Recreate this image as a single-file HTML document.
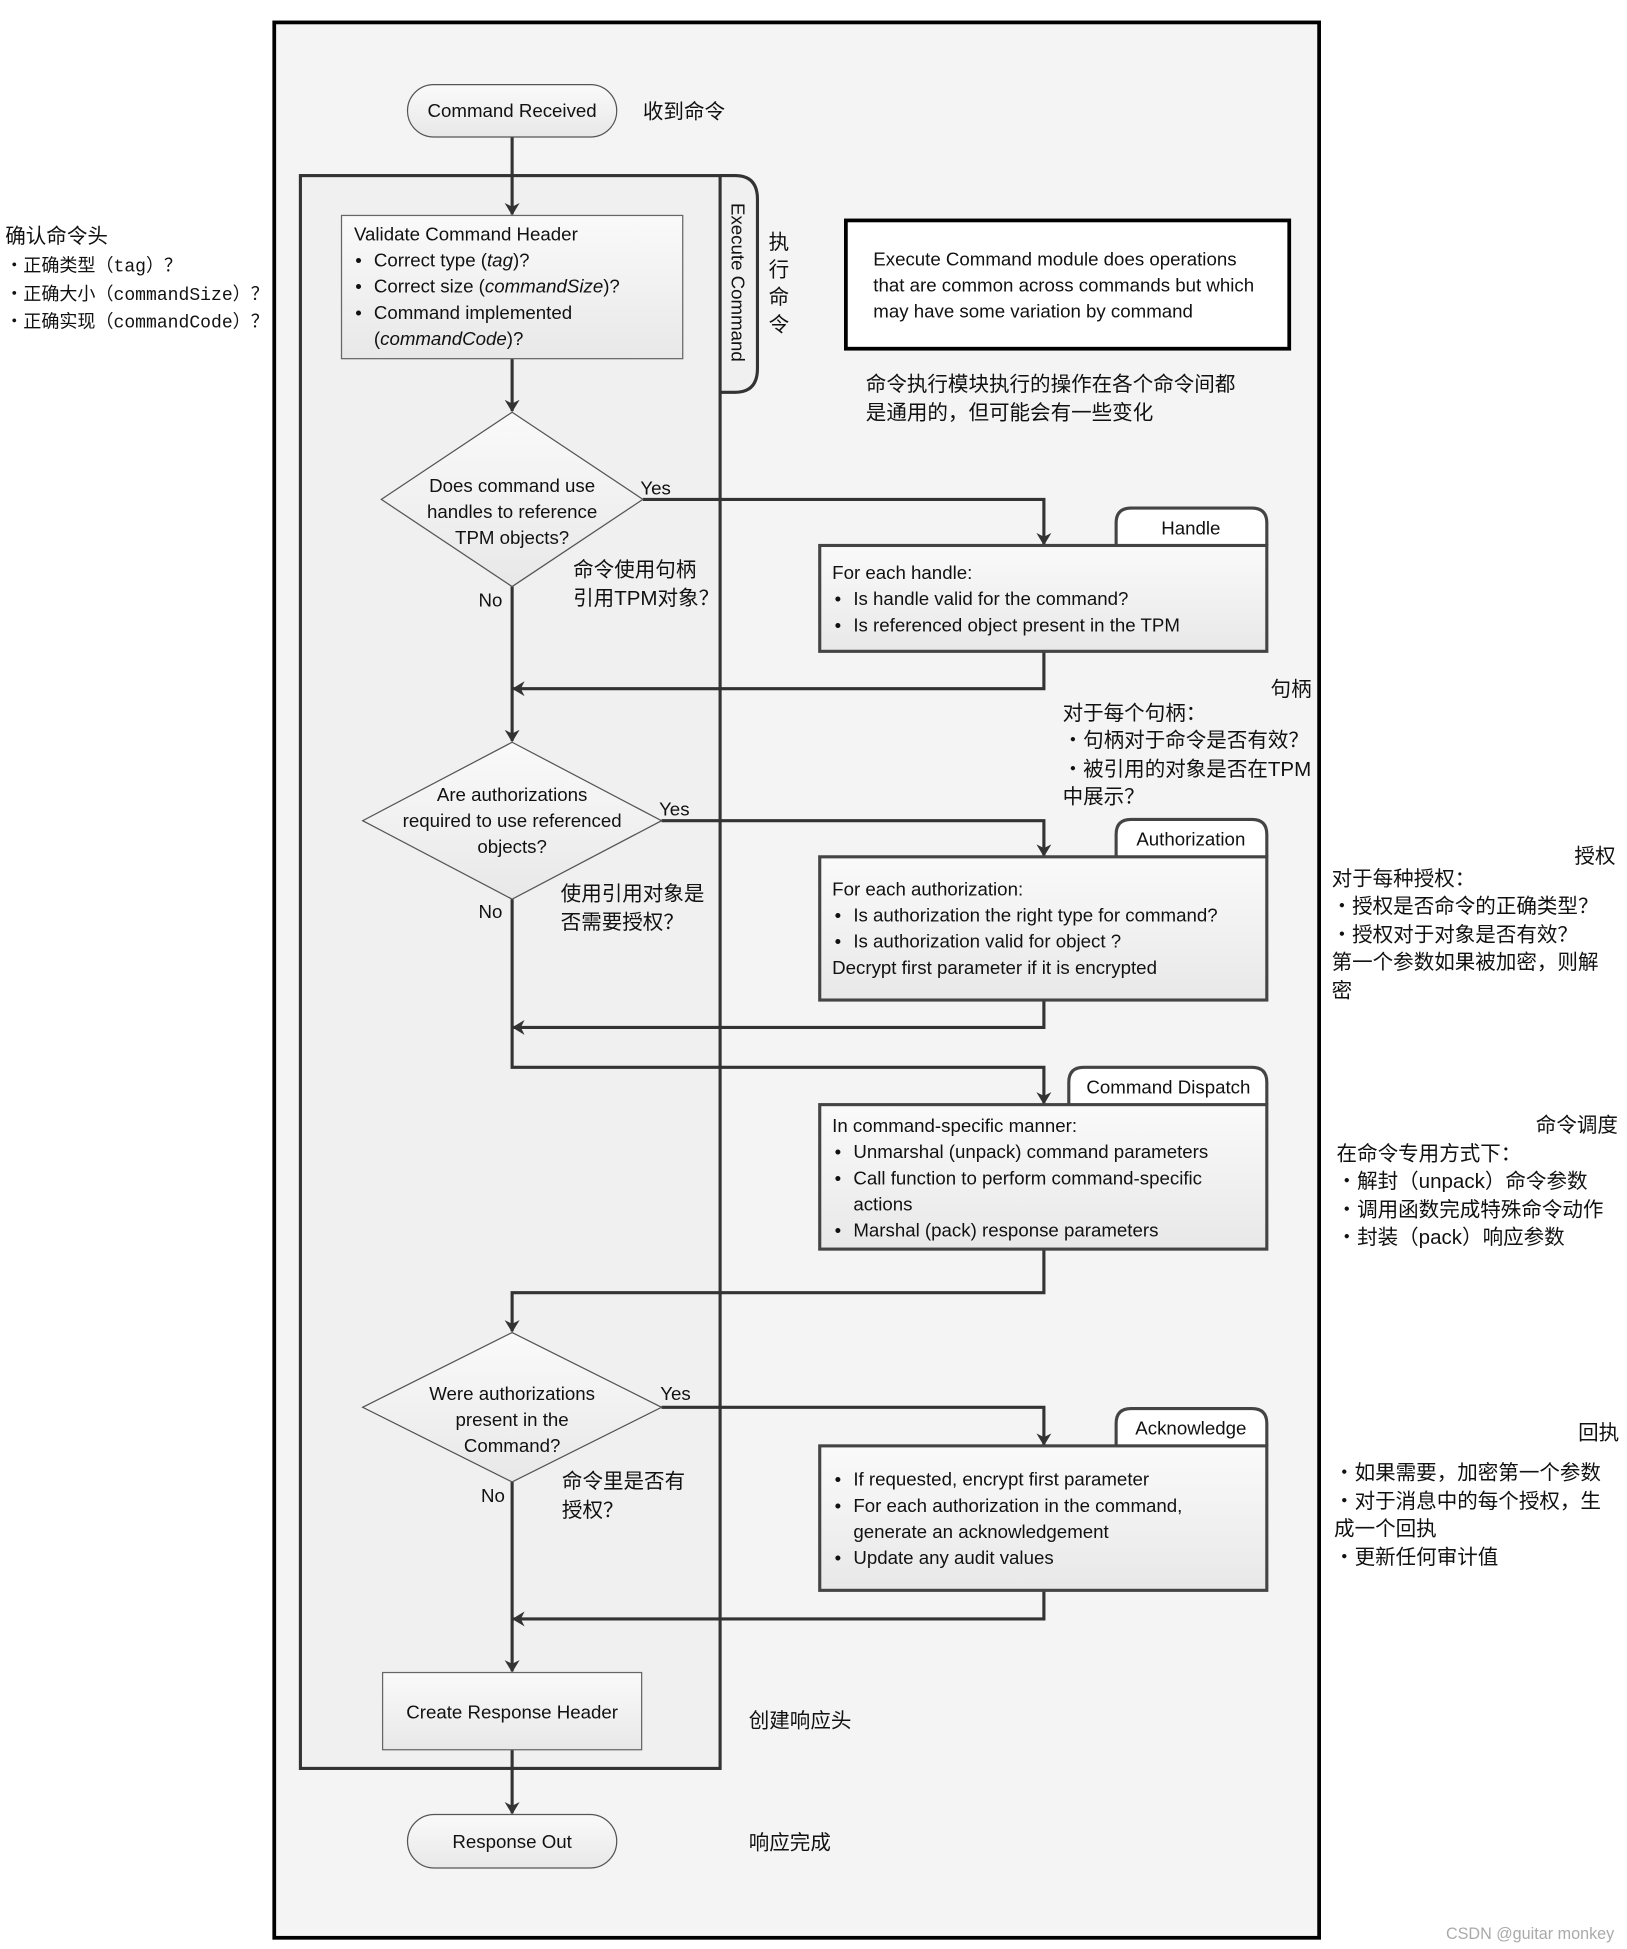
<!DOCTYPE html>
<html><head><meta charset="utf-8"><style>
html,body{margin:0;padding:0;background:#fff}
svg{display:block}
text{font-family:"Liberation Sans","Noto Sans CJK SC",sans-serif;fill:#111}
.en{font-size:15px}
.cn{font-size:16.5px;font-family:"Liberation Sans","Noto Sans CJK SC",sans-serif}
.mono{font-family:"Liberation Mono","Noto Sans CJK SC",monospace;font-size:14.5px}
</style></head><body>
<svg width="1627" height="1949" viewBox="0 0 1306 1565" xmlns="http://www.w3.org/2000/svg">
<defs>
<linearGradient id="g" x1="0" y1="0" x2="0" y2="1"><stop offset="0" stop-color="#fafafa"/><stop offset="1" stop-color="#e8e8e8"/></linearGradient>
<marker id="a" markerWidth="10" markerHeight="12" refX="9" refY="6" orient="auto" markerUnits="userSpaceOnUse"><path d="M0,0 L10,6 L0,12 L3,6 z" fill="#333"/></marker>
</defs>
<rect x="0" y="0" width="1306" height="1565" fill="#fff"/>
<rect x="220" y="18" width="839" height="1538" fill="#f4f4f4" stroke="#000" stroke-width="3"/>
<path d="M578,141 H590 Q608,141 608,160 V296 Q608,315 590,315 H578" fill="#f0f0f0" stroke="#333" stroke-width="2.5"/>
<rect x="241" y="141" width="337" height="1279" fill="#f0f0f0" stroke="#333" stroke-width="2.5"/>
<text class="en" transform="translate(587,163) rotate(90)">Execute Command</text>
<g stroke="#333" stroke-width="2.5" fill="none">
<line x1="411" y1="110" x2="411" y2="172" marker-end="url(#a)"/>
<line x1="411" y1="288" x2="411" y2="330" marker-end="url(#a)"/>
<polyline points="516,401 838,401 838,437" marker-end="url(#a)"/>
<polyline points="838,523 838,553 412,553" marker-end="url(#a)"/>
<line x1="411" y1="471" x2="411" y2="595" marker-end="url(#a)"/>
<polyline points="531,659 838,659 838,687" marker-end="url(#a)"/>
<polyline points="838,803 838,825 412,825" marker-end="url(#a)"/>
<polyline points="411,722 411,857 838,857 838,886" marker-end="url(#a)"/>
<polyline points="838,1003 838,1038 411,1038 411,1069" marker-end="url(#a)"/>
<polyline points="531,1130 838,1130 838,1160" marker-end="url(#a)"/>
<polyline points="838,1277 838,1300 412,1300" marker-end="url(#a)"/>
<line x1="411" y1="1190" x2="411" y2="1342" marker-end="url(#a)"/>
<line x1="411" y1="1405" x2="411" y2="1456" marker-end="url(#a)"/>
</g>
<rect x="327" y="68" width="168" height="42" rx="21" fill="url(#g)" stroke="#555" stroke-width="1"/>
<text class="en" x="411" y="94" text-anchor="middle">Command Received</text>
<text class="cn" x="516" y="95">收到命令</text>
<rect x="274" y="173" width="274" height="115" fill="url(#g)" stroke="#666" stroke-width="1"/>
<text class="en" x="284" y="193">Validate Command Header</text>
<g class="en"><text x="285" y="214">•</text><text x="285" y="235">•</text><text x="285" y="256">•</text></g>
<text class="en" x="300" y="214">Correct type (<tspan font-style="italic">tag</tspan>)?</text>
<text class="en" x="300" y="235">Correct size (<tspan font-style="italic">commandSize</tspan>)?</text>
<text class="en" x="300" y="256">Command implemented</text>
<text class="en" x="300" y="277">(<tspan font-style="italic">commandCode</tspan>)?</text>
<g class="cn"><text x="617" y="200">执</text><text x="617" y="222">行</text><text x="617" y="244">命</text><text x="617" y="266">令</text></g>
<rect x="679" y="177" width="356" height="103" fill="#fff" stroke="#000" stroke-width="3"/>
<text class="en" x="701" y="213">Execute Command module does operations</text>
<text class="en" x="701" y="234">that are common across commands but which</text>
<text class="en" x="701" y="255">may have some variation by command</text>
<text class="cn" x="695" y="314">命令执行模块执行的操作在各个命令间都</text>
<text class="cn" x="695" y="337">是通用的，但可能会有一些变化</text>
<polygon points="411,331 516,401 411,471 306,401" fill="url(#g)" stroke="#555" stroke-width="1"/>
<text class="en" x="411" y="395" text-anchor="middle">Does command use</text>
<text class="en" x="411" y="416" text-anchor="middle">handles to reference</text>
<text class="en" x="411" y="437" text-anchor="middle">TPM objects?</text>
<text class="en" x="514" y="397">Yes</text><text class="en" x="384" y="487">No</text>
<text class="cn" x="460" y="463">命令使用句柄</text><text class="cn" x="460" y="486">引用TPM对象？</text>
<path d="M896,438 V420 Q896,408 908,408 H1005 Q1017,408 1017,420 V438" fill="#fff" stroke="#444" stroke-width="2.5"/>
<text class="en" x="956" y="429" text-anchor="middle">Handle</text>
<rect x="658" y="438" width="359" height="85" fill="url(#g)" stroke="#444" stroke-width="2.5"/>
<text class="en" x="668" y="465">For each handle:</text>
<g class="en"><text x="670" y="486">•</text><text x="670" y="507">•</text></g>
<text class="en" x="685" y="486">Is handle valid for the command?</text>
<text class="en" x="685" y="507">Is referenced object present in the TPM</text>
<text class="cn" x="1020" y="559">句柄</text>
<text class="cn" x="853" y="578">对于每个句柄：</text>
<text class="cn" x="853" y="600">・句柄对于命令是否有效？</text>
<text class="cn" x="853" y="623">・被引用的对象是否在TPM</text>
<text class="cn" x="853" y="645">中展示？</text>
<polygon points="411,596 531,659 411,722 291,659" fill="url(#g)" stroke="#555" stroke-width="1"/>
<text class="en" x="411" y="643" text-anchor="middle">Are authorizations</text>
<text class="en" x="411" y="664" text-anchor="middle">required to use referenced</text>
<text class="en" x="411" y="685" text-anchor="middle">objects?</text>
<text class="en" x="529" y="655">Yes</text><text class="en" x="384" y="737">No</text>
<text class="cn" x="450" y="723">使用引用对象是</text><text class="cn" x="450" y="746">否需要授权？</text>
<path d="M896,688 V670 Q896,658 908,658 H1005 Q1017,658 1017,670 V688" fill="#fff" stroke="#444" stroke-width="2.5"/>
<text class="en" x="956" y="679" text-anchor="middle">Authorization</text>
<rect x="658" y="688" width="359" height="115" fill="url(#g)" stroke="#444" stroke-width="2.5"/>
<text class="en" x="668" y="719">For each authorization:</text>
<g class="en"><text x="670" y="740">•</text><text x="670" y="761">•</text></g>
<text class="en" x="685" y="740">Is authorization the right type for command?</text>
<text class="en" x="685" y="761">Is authorization valid for object ?</text>
<text class="en" x="668" y="782">Decrypt first parameter if it is encrypted</text>
<text class="cn" x="1264" y="693">授权</text>
<text class="cn" x="1069" y="711">对于每种授权：</text>
<text class="cn" x="1069" y="733">・授权是否命令的正确类型？</text>
<text class="cn" x="1069" y="756">・授权对于对象是否有效？</text>
<text class="cn" x="1069" y="778">第一个参数如果被加密，则解</text>
<text class="cn" x="1069" y="801">密</text>
<path d="M858,887 V869 Q858,857 870,857 H1005 Q1017,857 1017,869 V887" fill="#fff" stroke="#444" stroke-width="2.5"/>
<text class="en" x="938" y="878" text-anchor="middle">Command Dispatch</text>
<rect x="658" y="887" width="359" height="116" fill="url(#g)" stroke="#444" stroke-width="2.5"/>
<text class="en" x="668" y="909">In command-specific manner:</text>
<g class="en"><text x="670" y="930">•</text><text x="670" y="951">•</text><text x="670" y="993">•</text></g>
<text class="en" x="685" y="930">Unmarshal (unpack) command parameters</text>
<text class="en" x="685" y="951">Call function to perform command-specific</text>
<text class="en" x="685" y="972">actions</text>
<text class="en" x="685" y="993">Marshal (pack) response parameters</text>
<text class="cn" x="1233" y="909">命令调度</text>
<text class="cn" x="1073" y="932">在命令专用方式下：</text>
<text class="cn" x="1073" y="954">・解封（unpack）命令参数</text>
<text class="cn" x="1073" y="977">・调用函数完成特殊命令动作</text>
<text class="cn" x="1073" y="999">・封装（pack）响应参数</text>
<polygon points="411,1070 531,1130 411,1190 291,1130" fill="url(#g)" stroke="#555" stroke-width="1"/>
<text class="en" x="411" y="1124" text-anchor="middle">Were authorizations</text>
<text class="en" x="411" y="1145" text-anchor="middle">present in the</text>
<text class="en" x="411" y="1166" text-anchor="middle">Command?</text>
<text class="en" x="530" y="1124">Yes</text><text class="en" x="386" y="1206">No</text>
<text class="cn" x="451" y="1195">命令里是否有</text><text class="cn" x="451" y="1218">授权？</text>
<path d="M896,1161 V1143 Q896,1131 908,1131 H1005 Q1017,1131 1017,1143 V1161" fill="#fff" stroke="#444" stroke-width="2.5"/>
<text class="en" x="956" y="1152" text-anchor="middle">Acknowledge</text>
<rect x="658" y="1161" width="359" height="116" fill="url(#g)" stroke="#444" stroke-width="2.5"/>
<g class="en"><text x="670" y="1193">•</text><text x="670" y="1214">•</text><text x="670" y="1256">•</text></g>
<text class="en" x="685" y="1193">If requested, encrypt first parameter</text>
<text class="en" x="685" y="1214">For each authorization in the command,</text>
<text class="en" x="685" y="1235">generate an acknowledgement</text>
<text class="en" x="685" y="1256">Update any audit values</text>
<text class="cn" x="1267" y="1156">回执</text>
<text class="cn" x="1071" y="1188">・如果需要，加密第一个参数</text>
<text class="cn" x="1071" y="1211">・对于消息中的每个授权，生</text>
<text class="cn" x="1071" y="1233">成一个回执</text>
<text class="cn" x="1071" y="1256">・更新任何审计值</text>
<rect x="307" y="1343" width="208" height="62" fill="url(#g)" stroke="#666" stroke-width="1"/>
<text class="en" x="411" y="1380" text-anchor="middle">Create Response Header</text>
<text class="cn" x="601" y="1387">创建响应头</text>
<rect x="327" y="1457" width="168" height="43" rx="21.5" fill="url(#g)" stroke="#555" stroke-width="1"/>
<text class="en" x="411" y="1484" text-anchor="middle">Response Out</text>
<text class="cn" x="601" y="1485">响应完成</text>
<text class="cn" x="4" y="195">确认命令头</text>
<text class="mono" x="4" y="218">・正确类型（tag）？</text>
<text class="mono" x="4" y="241">・正确大小（commandSize）？</text>
<text class="mono" x="4" y="263">・正确实现（commandCode）？</text>
<text x="1296" y="1557" text-anchor="end" font-size="13" style="fill:#aaa">CSDN @guitar monkey</text>
</svg>
</body></html>
